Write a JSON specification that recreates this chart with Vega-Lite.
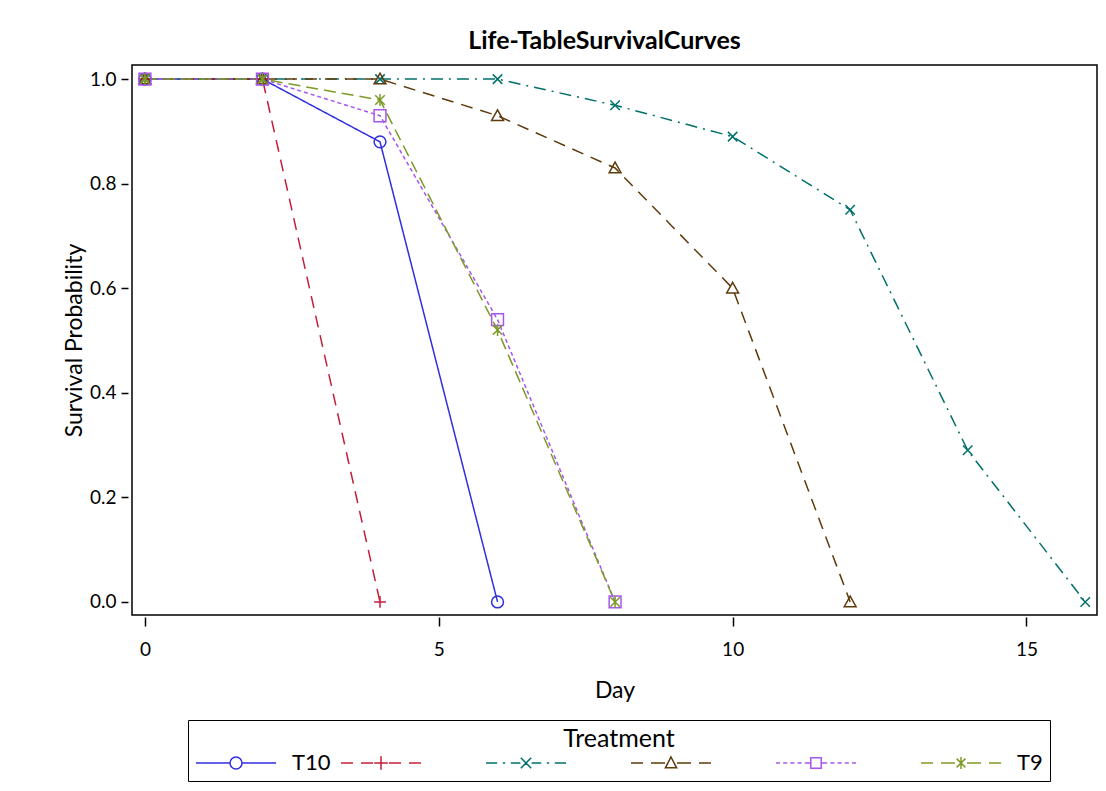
{
  "$schema": "https://vega.github.io/schema/vega-lite/v6.json",
  "autosize": {"type": "none"},
  "width": 965,
  "height": 550,
  "padding": {"left": 132, "top": 65, "right": 9, "bottom": 176},
  "background": "white",
  "config": {
    "font": "Lato",
    "view": {"stroke": "black", "strokeWidth": 1.5},
    "axis": {"labelFont": "Lato", "labelFontSize": 19, "labelColor": "black", "titleFont": "Lato", "titleFontSize": 23, "titleFontWeight": "normal", "titleColor": "black", "tickColor": "black", "tickWidth": 1.5, "domain": false, "grid": false},
    "legend": {
      "orient": "none", "legendX": 56, "legendY": 655,
      "direction": "horizontal", "columns": 6, "gridAlign": "all", "columnPadding": 7,
      "symbolSize": 400, "symbolStrokeWidth": 1.5,
      "labelFont": "Lato", "labelFontSize": 22, "labelColor": "black", "labelOffset": 75,
      "titleFont": "Lato", "titleFontSize": 25, "titleFontWeight": "normal", "titleColor": "black", "titleAnchor": "middle", "titlePadding": 0,
      "strokeColor": "black", "padding": 7
    }
  },
  "title": {"text": "Life-TableSurvivalCurves", "font": "Lato", "fontSize": 25, "fontWeight": "bold", "color": "black", "offset": 11, "anchor": "middle", "dx": -10},
  "data": {"values": [
    {"Day": 0, "Survival": 1, "Treatment": "T10"},
    {"Day": 2, "Survival": 1, "Treatment": "T10"},
    {"Day": 4, "Survival": 0.88, "Treatment": "T10"},
    {"Day": 6, "Survival": 0, "Treatment": "T10"},
    {"Day": 0, "Survival": 1, "Treatment": "T5"},
    {"Day": 2, "Survival": 1, "Treatment": "T5"},
    {"Day": 4, "Survival": 0, "Treatment": "T5"},
    {"Day": 0, "Survival": 1, "Treatment": "T6"},
    {"Day": 2, "Survival": 1, "Treatment": "T6"},
    {"Day": 4, "Survival": 1, "Treatment": "T6"},
    {"Day": 6, "Survival": 1, "Treatment": "T6"},
    {"Day": 8, "Survival": 0.95, "Treatment": "T6"},
    {"Day": 10, "Survival": 0.89, "Treatment": "T6"},
    {"Day": 12, "Survival": 0.75, "Treatment": "T6"},
    {"Day": 14, "Survival": 0.29, "Treatment": "T6"},
    {"Day": 16, "Survival": 0, "Treatment": "T6"},
    {"Day": 0, "Survival": 1, "Treatment": "T7"},
    {"Day": 2, "Survival": 1, "Treatment": "T7"},
    {"Day": 4, "Survival": 1, "Treatment": "T7"},
    {"Day": 6, "Survival": 0.93, "Treatment": "T7"},
    {"Day": 8, "Survival": 0.83, "Treatment": "T7"},
    {"Day": 10, "Survival": 0.6, "Treatment": "T7"},
    {"Day": 12, "Survival": 0, "Treatment": "T7"},
    {"Day": 0, "Survival": 1, "Treatment": "T8"},
    {"Day": 2, "Survival": 1, "Treatment": "T8"},
    {"Day": 4, "Survival": 0.93, "Treatment": "T8"},
    {"Day": 6, "Survival": 0.54, "Treatment": "T8"},
    {"Day": 8, "Survival": 0, "Treatment": "T8"},
    {"Day": 0, "Survival": 1, "Treatment": "T9"},
    {"Day": 2, "Survival": 1, "Treatment": "T9"},
    {"Day": 4, "Survival": 0.96, "Treatment": "T9"},
    {"Day": 6, "Survival": 0.52, "Treatment": "T9"},
    {"Day": 8, "Survival": 0, "Treatment": "T9"}
  ]},
  "encoding": {
    "x": {"field": "Day", "type": "quantitative", "scale": {"domain": [-0.22, 16.2], "nice": false, "zero": false}, "axis": {"values": [0, 5, 10, 15], "title": "Day", "offset": 2, "tickSize": 9, "labelPadding": 14, "titlePadding": 20}},
    "y": {"field": "Survival", "type": "quantitative", "scale": {"domain": [-0.025, 1.027], "nice": false, "zero": false}, "axis": {"values": [0, 0.2, 0.4, 0.6, 0.8, 1.0], "format": ".1f", "title": "Survival Probability", "offset": 4, "tickSize": 7, "labelPadding": 5, "titlePadding": 3}}
  },
  "layer": [
    {
      "mark": {"type": "line", "strokeWidth": 1.5},
      "encoding": {
        "color": {"field": "Treatment", "type": "nominal", "scale": {"domain": ["T10", "T5", "T6", "T7", "T8", "T9"], "range": ["#2f2fe0", "#c41e3a", "#00706a", "#5e3a0c", "#a855f0", "#7c9a26"]}, "legend": null},
        "strokeDash": {"field": "Treatment", "type": "nominal", "scale": {"domain": ["T10", "T5", "T6", "T7", "T8", "T9"], "range": [[1, 0], [12, 8], [12, 6, 2, 6], [12, 8], [4, 3], [12, 6]]}, "legend": null}
      }
    },
    {
      "mark": {"type": "point", "filled": false, "size": 140, "strokeWidth": 1.5, "opacity": 1},
      "encoding": {
        "color": {"field": "Treatment", "type": "nominal", "scale": {"domain": ["T10", "T5", "T6", "T7", "T8", "T9"], "range": ["#2f2fe0", "#c41e3a", "#00706a", "#5e3a0c", "#a855f0", "#7c9a26"]}, "legend": null},
        "shape": {"field": "Treatment", "type": "nominal", "scale": {"domain": ["T10", "T5", "T6", "T7", "T8", "T9"], "range": ["circle", "M-1,0H1M0,-1V1", "M-0.8,-0.8L0.8,0.8M-0.8,0.8L0.8,-0.8", "M0,-1L1,0.8L-1,0.8Z", "square", "M-0.8,-0.8L0.8,0.8M-0.8,0.8L0.8,-0.8M0,-1V1"]}, "legend": null}
      }
    },
    {
      "transform": [{"filter": "datum.Day < -100"}],
      "mark": {"type": "point", "filled": false, "size": 400, "strokeWidth": 1.5, "opacity": 1},
      "encoding": {
        "color": {"field": "Treatment", "type": "nominal", "title": "Treatment",
          "scale": {"domain": ["T10", "T5", "T6", "T7", "T8", "T9"], "range": ["#2f2fe0", "#c41e3a", "#00706a", "#5e3a0c", "#a855f0", "#7c9a26"]},
          "legend": {"labelExpr": "datum.label == 'T10' || datum.label == 'T9' ? datum.label : ''", "title": "Treatment"}},
        "shape": {"field": "Treatment", "type": "nominal", "title": "Treatment",
          "scale": {"domain": ["T10", "T5", "T6", "T7", "T8", "T9"], "range": [
            "M-1,0H2.4M3.6,0H7M3.6,0A0.6,0.6 0 1,1 2.4,0A0.6,0.6 0 1,1 3.6,0",
            "M-1,0H0.2M1,0H2.2M2.32,0H3.68M3,-0.68V0.68M3.8,0H5M5.8,0H7",
            "M-1,0H0.12M0.68,0H0.92M1.48,0H2.44M2.48,-0.52L3.52,0.52M2.48,0.52L3.52,-0.52M3.56,0H4.52M5.08,0H5.32M5.88,0H7",
            "M-1,0H0.2M1,0H2.4M3,-0.6L3.56,0.48L2.44,0.48ZM3.6,0H5M5.8,0H7",
            "M-1,0H-0.6M-0.28,0H0.12M0.44,0H0.84M1.16,0H1.56M1.88,0H2.48M2.48,-0.52H3.52V0.52H2.48ZM3.52,0H4.12M4.44,0H4.84M5.16,0H5.56M5.88,0H6.28M6.6,0H7",
            "M-1,0H0.2M1,0H2.4M2.56,-0.44L3.44,0.44M2.56,0.44L3.44,-0.44M3,-0.6V0.6M3.6,0H5M5.8,0H7"
          ]},
          "legend": {
            "labelExpr": "datum.label == 'T10' || datum.label == 'T9' ? datum.label : ''",
            "title": "Treatment"
          }
        }
      }
    }
  ],
  "resolve": {"scale": {"shape": "independent", "color": "independent"}}
}
